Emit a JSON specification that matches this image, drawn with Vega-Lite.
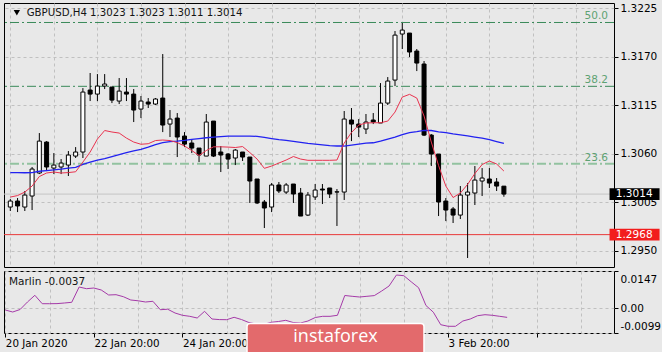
{
  "$schema": "https://vega.github.io/schema/vega-lite/v6.json",
  "background": "#e8e8e8",
  "padding": {"left": 2, "top": 2, "right": 0, "bottom": 0},
  "config": {
    "view": {"stroke": "#000000", "strokeWidth": 1, "fill": "#e8e8e8"},
    "font": "DejaVu Sans",
    "concat": {"spacing": 2},
    "axis": {"labelFont": "DejaVu Sans", "labelFontSize": 10.5, "labelColor": "#000000", "gridColor": "#c0c0c0", "gridDash": [3, 3], "gridWidth": 1, "tickColor": "#000000", "domain": false, "labelOverlap": false, "labelBound": false}
  },
  "datasets": {
    "candles": [
      {"i": 0, "open": 1.29993, "high": 1.30084, "low": 1.29948, "close": 1.30061, "ma_fast": 1.30106, "ma_slow": 1.30384, "marlin": -0.00078},
      {"i": 1, "open": 1.30061, "high": 1.30095, "low": 1.29936, "close": 1.30005, "ma_fast": 1.30123, "ma_slow": 1.30384, "marlin": -0.00157},
      {"i": 2, "open": 1.29993, "high": 1.30175, "low": 1.29948, "close": 1.30129, "ma_fast": 1.30163, "ma_slow": 1.30382, "marlin": -0.00058},
      {"i": 3, "open": 1.30118, "high": 1.30447, "low": 1.29959, "close": 1.30424, "ma_fast": 1.30231, "ma_slow": 1.30384, "marlin": 0.0024},
      {"i": 4, "open": 1.30379, "high": 1.30832, "low": 1.30367, "close": 1.30741, "ma_fast": 1.30339, "ma_slow": 1.30399, "marlin": 0.00506},
      {"i": 5, "open": 1.3073, "high": 1.30741, "low": 1.30401, "close": 1.30447, "ma_fast": 1.30379, "ma_slow": 1.30407, "marlin": 0.00172},
      {"i": 6, "open": 1.30435, "high": 1.30605, "low": 1.30367, "close": 1.30469, "ma_fast": 1.3039, "ma_slow": 1.30415, "marlin": 0.00172},
      {"i": 7, "open": 1.30447, "high": 1.30537, "low": 1.30367, "close": 1.30492, "ma_fast": 1.30379, "ma_slow": 1.30424, "marlin": 0.00176},
      {"i": 8, "open": 1.30469, "high": 1.30628, "low": 1.30345, "close": 1.30583, "ma_fast": 1.30384, "ma_slow": 1.30435, "marlin": 0.002},
      {"i": 9, "open": 1.30571, "high": 1.30673, "low": 1.30549, "close": 1.30617, "ma_fast": 1.30393, "ma_slow": 1.30444, "marlin": 0.00228},
      {"i": 10, "open": 1.30617, "high": 1.31342, "low": 1.30549, "close": 1.31297, "ma_fast": 1.30503, "ma_slow": 1.30477, "marlin": 0.00835},
      {"i": 11, "open": 1.3132, "high": 1.31513, "low": 1.31195, "close": 1.31274, "ma_fast": 1.30617, "ma_slow": 1.30503, "marlin": 0.00768},
      {"i": 12, "open": 1.31274, "high": 1.31501, "low": 1.31195, "close": 1.31365, "ma_fast": 1.30764, "ma_slow": 1.30526, "marlin": 0.00795},
      {"i": 13, "open": 1.31365, "high": 1.31501, "low": 1.31331, "close": 1.31388, "ma_fast": 1.30861, "ma_slow": 1.30543, "marlin": 0.00716},
      {"i": 14, "open": 1.31354, "high": 1.31354, "low": 1.31172, "close": 1.31206, "ma_fast": 1.30844, "ma_slow": 1.30566, "marlin": 0.00518},
      {"i": 15, "open": 1.31195, "high": 1.31456, "low": 1.31161, "close": 1.31308, "ma_fast": 1.30832, "ma_slow": 1.30588, "marlin": 0.0053},
      {"i": 16, "open": 1.31297, "high": 1.31456, "low": 1.31195, "close": 1.31274, "ma_fast": 1.30775, "ma_slow": 1.30611, "marlin": 0.0045},
      {"i": 17, "open": 1.31274, "high": 1.31331, "low": 1.30957, "close": 1.31093, "ma_fast": 1.3073, "ma_slow": 1.30631, "marlin": 0.00319},
      {"i": 18, "open": 1.31104, "high": 1.31252, "low": 1.31002, "close": 1.31195, "ma_fast": 1.30705, "ma_slow": 1.30647, "marlin": 0.00288},
      {"i": 19, "open": 1.31184, "high": 1.31229, "low": 1.31116, "close": 1.31161, "ma_fast": 1.30711, "ma_slow": 1.30673, "marlin": 0.0024},
      {"i": 20, "open": 1.31161, "high": 1.31229, "low": 1.3115, "close": 1.31218, "ma_fast": 1.30747, "ma_slow": 1.30702, "marlin": 0.00268},
      {"i": 21, "open": 1.31229, "high": 1.31728, "low": 1.30843, "close": 1.30923, "ma_fast": 1.30753, "ma_slow": 1.30724, "marlin": -0.00066},
      {"i": 22, "open": 1.30934, "high": 1.31093, "low": 1.30787, "close": 1.30991, "ma_fast": 1.30747, "ma_slow": 1.30736, "marlin": -0.00046},
      {"i": 23, "open": 1.31002, "high": 1.31059, "low": 1.3056, "close": 1.30787, "ma_fast": 1.30724, "ma_slow": 1.30741, "marlin": -0.00197},
      {"i": 24, "open": 1.30798, "high": 1.30843, "low": 1.30673, "close": 1.30707, "ma_fast": 1.30685, "ma_slow": 1.30749, "marlin": -0.00288},
      {"i": 25, "open": 1.30719, "high": 1.30764, "low": 1.30605, "close": 1.30662, "ma_fast": 1.30634, "ma_slow": 1.30761, "marlin": -0.00328},
      {"i": 26, "open": 1.30662, "high": 1.30662, "low": 1.30503, "close": 1.30583, "ma_fast": 1.30577, "ma_slow": 1.3077, "marlin": -0.00395},
      {"i": 27, "open": 1.30571, "high": 1.31048, "low": 1.30571, "close": 1.30957, "ma_fast": 1.30634, "ma_slow": 1.30779, "marlin": -0.00129},
      {"i": 28, "open": 1.30968, "high": 1.30968, "low": 1.3056, "close": 1.30571, "ma_fast": 1.30676, "ma_slow": 1.30787, "marlin": -0.00435},
      {"i": 29, "open": 1.30617, "high": 1.30685, "low": 1.3039, "close": 1.30583, "ma_fast": 1.30676, "ma_slow": 1.30792, "marlin": -0.00458},
      {"i": 30, "open": 1.30594, "high": 1.30605, "low": 1.30424, "close": 1.30537, "ma_fast": 1.30673, "ma_slow": 1.30798, "marlin": -0.00462},
      {"i": 31, "open": 1.30549, "high": 1.30651, "low": 1.30469, "close": 1.30639, "ma_fast": 1.30668, "ma_slow": 1.30798, "marlin": -0.00367},
      {"i": 32, "open": 1.30617, "high": 1.30617, "low": 1.30515, "close": 1.3056, "ma_fast": 1.30679, "ma_slow": 1.30798, "marlin": -0.00455},
      {"i": 33, "open": 1.3056, "high": 1.3056, "low": 1.30039, "close": 1.30288, "ma_fast": 1.30611, "ma_slow": 1.30798, "marlin": -0.00574},
      {"i": 34, "open": 1.30311, "high": 1.30311, "low": 1.30027, "close": 1.30039, "ma_fast": 1.30537, "ma_slow": 1.30795, "marlin": -0.00633},
      {"i": 35, "open": 1.3005, "high": 1.30073, "low": 1.29755, "close": 1.29982, "ma_fast": 1.30432, "ma_slow": 1.30783, "marlin": -0.00653},
      {"i": 36, "open": 1.29993, "high": 1.30265, "low": 1.29936, "close": 1.30243, "ma_fast": 1.30458, "ma_slow": 1.3077, "marlin": -0.00566},
      {"i": 37, "open": 1.30243, "high": 1.30277, "low": 1.30152, "close": 1.30175, "ma_fast": 1.30492, "ma_slow": 1.30758, "marlin": -0.00534},
      {"i": 38, "open": 1.30163, "high": 1.30265, "low": 1.30141, "close": 1.30243, "ma_fast": 1.30526, "ma_slow": 1.30749, "marlin": -0.00486},
      {"i": 39, "open": 1.30254, "high": 1.30254, "low": 1.30039, "close": 1.30141, "ma_fast": 1.30566, "ma_slow": 1.30738, "marlin": -0.00574},
      {"i": 40, "open": 1.30152, "high": 1.30209, "low": 1.29891, "close": 1.29891, "ma_fast": 1.30537, "ma_slow": 1.30727, "marlin": -0.00593},
      {"i": 41, "open": 1.29902, "high": 1.30163, "low": 1.29891, "close": 1.30129, "ma_fast": 1.30523, "ma_slow": 1.30715, "marlin": -0.00514},
      {"i": 42, "open": 1.30107, "high": 1.30254, "low": 1.30073, "close": 1.30186, "ma_fast": 1.30523, "ma_slow": 1.30707, "marlin": -0.00375},
      {"i": 43, "open": 1.30197, "high": 1.30254, "low": 1.30027, "close": 1.30186, "ma_fast": 1.30523, "ma_slow": 1.30698, "marlin": -0.00328},
      {"i": 44, "open": 1.30209, "high": 1.30209, "low": 1.30095, "close": 1.30141, "ma_fast": 1.30523, "ma_slow": 1.3069, "marlin": -0.00328},
      {"i": 45, "open": 1.30163, "high": 1.30197, "low": 1.29778, "close": 1.30166, "ma_fast": 1.30526, "ma_slow": 1.30685, "marlin": -0.00288},
      {"i": 46, "open": 1.30163, "high": 1.31082, "low": 1.30073, "close": 1.30991, "ma_fast": 1.30719, "ma_slow": 1.30685, "marlin": 0.00498},
      {"i": 47, "open": 1.3098, "high": 1.31116, "low": 1.30741, "close": 1.30934, "ma_fast": 1.30838, "ma_slow": 1.30696, "marlin": 0.00466},
      {"i": 48, "open": 1.30934, "high": 1.30991, "low": 1.30787, "close": 1.309, "ma_fast": 1.30923, "ma_slow": 1.30707, "marlin": 0.00438},
      {"i": 49, "open": 1.30878, "high": 1.31048, "low": 1.30821, "close": 1.30957, "ma_fast": 1.30946, "ma_slow": 1.30719, "marlin": 0.00466},
      {"i": 50, "open": 1.3098, "high": 1.31059, "low": 1.30934, "close": 1.30957, "ma_fast": 1.30949, "ma_slow": 1.30722, "marlin": 0.00494},
      {"i": 51, "open": 1.30946, "high": 1.31399, "low": 1.30946, "close": 1.31172, "ma_fast": 1.30949, "ma_slow": 1.30741, "marlin": 0.00676},
      {"i": 52, "open": 1.31172, "high": 1.31467, "low": 1.3115, "close": 1.31422, "ma_fast": 1.30968, "ma_slow": 1.30764, "marlin": 0.00875},
      {"i": 53, "open": 1.31433, "high": 1.31989, "low": 1.31365, "close": 1.31943, "ma_fast": 1.3107, "ma_slow": 1.30787, "marlin": 0.01311},
      {"i": 54, "open": 1.31955, "high": 1.3208, "low": 1.31785, "close": 1.32, "ma_fast": 1.3124, "ma_slow": 1.30815, "marlin": 0.01284},
      {"i": 55, "open": 1.31966, "high": 1.31966, "low": 1.31694, "close": 1.31751, "ma_fast": 1.31271, "ma_slow": 1.30838, "marlin": 0.01041},
      {"i": 56, "open": 1.31762, "high": 1.31785, "low": 1.31535, "close": 1.31626, "ma_fast": 1.31229, "ma_slow": 1.30849, "marlin": 0.00807},
      {"i": 57, "open": 1.31615, "high": 1.31649, "low": 1.30798, "close": 1.30809, "ma_fast": 1.31025, "ma_slow": 1.30863, "marlin": 0.00101},
      {"i": 58, "open": 1.30809, "high": 1.30821, "low": 1.30458, "close": 1.30594, "ma_fast": 1.3073, "ma_slow": 1.30861, "marlin": -0.00165},
      {"i": 59, "open": 1.30594, "high": 1.30594, "low": 1.29891, "close": 1.3005, "ma_fast": 1.30464, "ma_slow": 1.30846, "marlin": -0.00661},
      {"i": 60, "open": 1.30061, "high": 1.30095, "low": 1.29834, "close": 1.29959, "ma_fast": 1.30231, "ma_slow": 1.30836, "marlin": -0.00724},
      {"i": 61, "open": 1.29971, "high": 1.29993, "low": 1.29812, "close": 1.29902, "ma_fast": 1.30101, "ma_slow": 1.30823, "marlin": -0.00724},
      {"i": 62, "open": 1.29902, "high": 1.30231, "low": 1.29857, "close": 1.30129, "ma_fast": 1.30152, "ma_slow": 1.30812, "marlin": -0.00514},
      {"i": 63, "open": 1.30129, "high": 1.30265, "low": 1.29415, "close": 1.30163, "ma_fast": 1.3025, "ma_slow": 1.308, "marlin": -0.00435},
      {"i": 64, "open": 1.30152, "high": 1.30458, "low": 1.30016, "close": 1.30299, "ma_fast": 1.30373, "ma_slow": 1.30787, "marlin": -0.00304},
      {"i": 65, "open": 1.30288, "high": 1.30435, "low": 1.30118, "close": 1.30322, "ma_fast": 1.30475, "ma_slow": 1.30775, "marlin": -0.00264},
      {"i": 66, "open": 1.30311, "high": 1.30435, "low": 1.30209, "close": 1.30265, "ma_fast": 1.30515, "ma_slow": 1.30758, "marlin": -0.00288},
      {"i": 67, "open": 1.30277, "high": 1.30322, "low": 1.30175, "close": 1.30231, "ma_fast": 1.30481, "ma_slow": 1.30736, "marlin": -0.00328},
      {"i": 68, "open": 1.3023, "high": 1.3023, "low": 1.3011, "close": 1.3014, "ma_fast": 1.30401, "ma_slow": 1.30715, "marlin": -0.0037}
    ],
    "fib": [
      {"level": 1.32086, "label": "50.0"},
      {"level": 1.31362, "label": "38.2"},
      {"level": 1.30484, "label": "23.6"}
    ],
    "levels": [
      {"price": 1.3014, "label": "1.3014"},
      {"price": 1.2968, "label": "1.2968"}
    ],
    "captions": [
      {"panel": "main", "label": "GBPUSD,H4 1.3023 1.3023 1.3011 1.3014"},
      {"panel": "sub", "label": "Marlin -0.0037"},
      {"panel": "mark", "label": "instaforex"}
    ]
  },
  "vconcat": [
    {
      "width": 610,
      "height": 264,
      "layer": [
        {
          "data": {"name": "fib"},
          "mark": {"type": "rule", "strokeDash": [9, 3, 2, 3]},
          "encoding": {
            "y": {"field": "level", "type": "quantitative", "scale": {"domain": [1.29313, 1.32307], "nice": false, "zero": false},
                  "axis": {"orient": "right", "values": [1.295, 1.3005, 1.306, 1.3115, 1.317, 1.3225], "tickCount": 12, "format": ".4f", "grid": true, "tickSize": 4, "labelPadding": 2, "title": null}},
            "color": {"condition": {"test": "datum.label == '23.6'", "value": "#92c2a0"}, "value": "#3a8a5a"},
            "strokeWidth": {"condition": {"test": "datum.label == '23.6'", "value": 2}, "value": 1}
          }
        },
        {
          "data": {"name": "fib"},
          "mark": {"type": "text", "align": "right", "baseline": "bottom", "dy": -1, "fontSize": 10.5, "color": "#5ea273"},
          "encoding": {
            "x": {"datum": 82.34, "type": "quantitative"},
            "y": {"field": "level", "type": "quantitative"},
            "text": {"field": "label"}
          }
        },
        {
          "data": {"name": "levels"},
          "mark": {"type": "rule", "strokeWidth": 1},
          "encoding": {
            "y": {"field": "price", "type": "quantitative"},
            "color": {"condition": {"test": "datum.label == '1.2968'", "value": "#e83a3a"}, "value": "#c4c4c4"}
          }
        },
        {
          "data": {"name": "candles"},
          "mark": {"type": "rule", "color": "#000000", "strokeWidth": 1, "clip": true},
          "encoding": {
            "x": {"field": "i", "type": "quantitative", "scale": {"domain": [-0.18, 82.48], "nice": false, "zero": false},
                  "axis": {"orient": "bottom", "values": [0, 6, 12, 18, 24, 30, 36, 42, 48, 54, 60, 66, 72, 78], "tickCount": 30, "grid": true, "labels": false, "ticks": false, "title": null}},
            "y": {"field": "low", "type": "quantitative"},
            "y2": {"field": "high"}
          }
        },
        {
          "data": {"name": "candles"},
          "mark": {"type": "bar", "size": 4, "stroke": "#000000", "strokeWidth": 1, "clip": true},
          "encoding": {
            "x": {"field": "i", "type": "quantitative"},
            "y": {"field": "open", "type": "quantitative"},
            "y2": {"field": "close"},
            "fill": {"condition": {"test": "datum.close >= datum.open", "value": "#ffffff"}, "value": "#000000"}
          }
        },
        {
          "data": {"name": "candles"},
          "mark": {"type": "line", "color": "#2222f0", "strokeWidth": 1.3, "clip": true},
          "encoding": {
            "x": {"field": "i", "type": "quantitative"},
            "y": {"field": "ma_slow", "type": "quantitative"}
          }
        },
        {
          "data": {"name": "candles"},
          "mark": {"type": "line", "color": "#e8334f", "strokeWidth": 1, "clip": true},
          "encoding": {
            "x": {"field": "i", "type": "quantitative"},
            "y": {"field": "ma_fast", "type": "quantitative"}
          }
        },
        {
          "data": {"name": "captions"},
          "transform": [{"filter": "datum.panel == 'main'"}],
          "mark": {"type": "point", "shape": "triangle-down", "filled": true, "size": 40, "color": "#000000", "opacity": 1},
          "encoding": {
            "x": {"datum": 0.9, "type": "quantitative"},
            "y": {"datum": 1.32197, "type": "quantitative"}
          }
        },
        {
          "data": {"name": "captions"},
          "transform": [{"filter": "datum.panel == 'main'"}],
          "mark": {"type": "text", "align": "left", "baseline": "middle", "fontSize": 10.2, "color": "#151515"},
          "encoding": {
            "x": {"datum": 2.26, "type": "quantitative"},
            "y": {"datum": 1.32194, "type": "quantitative"},
            "text": {"field": "label"}
          }
        },
        {
          "data": {"name": "levels"},
          "mark": {"type": "point", "shape": "M-1,-0.232L1,-0.232L1,0.232L-1,0.232Z", "filled": true, "size": 2500, "opacity": 1, "strokeWidth": 0, "clip": false},
          "encoding": {
            "x": {"datum": 86.0, "type": "quantitative"},
            "y": {"field": "price", "type": "quantitative"},
            "color": {"condition": {"test": "datum.label == '1.2968'", "value": "#f21d1d"}, "value": "#000000"}
          }
        },
        {
          "data": {"name": "levels"},
          "mark": {"type": "text", "align": "left", "baseline": "middle", "fontSize": 10.5, "color": "#ffffff", "clip": false},
          "encoding": {
            "x": {"datum": 83.42, "type": "quantitative"},
            "y": {"field": "price", "type": "quantitative"},
            "text": {"field": "label"}
          }
        }
      ]
    },
    {
      "width": 610,
      "height": 62,
      "layer": [
        {
          "data": {"name": "candles"},
          "mark": {"type": "line", "color": "#a53aa8", "strokeWidth": 1, "clip": true},
          "encoding": {
            "x": {"field": "i", "type": "quantitative", "scale": {"domain": [-0.18, 82.48], "nice": false, "zero": false},
                  "axis": {"orient": "bottom", "values": [0, 6, 12, 18, 24, 30, 36, 42, 48, 54, 60, 66, 72, 78], "tickCount": 30, "grid": true, "tickSize": 4, "labelPadding": 1, "labelAlign": "left", "labelFontSize": 10.3, "title": null,
                           "tickOpacity": {"condition": {"test": "datum.value % 12 == 0", "value": 1}, "value": 0},
                           "labelExpr": "datum.value == 0 ? '20 Jan 2020' : datum.value == 12 ? '22 Jan 20:00' : datum.value == 24 ? '24 Jan 20:00' : datum.value == 60 ? '3 Feb 20:00' : ''"}},
            "y": {"field": "marlin", "type": "quantitative", "scale": {"domain": [-0.0099, 0.0147], "nice": false, "zero": false},
                  "axis": {"orient": "right", "values": [-0.0099, 0, 0.0147], "tickCount": 10, "grid": true, "tickSize": 4, "labelPadding": 2, "title": null,
                           "labelOffset": {"condition": [{"test": "datum.value > 0.01", "value": 8}, {"test": "datum.value < -0.005", "value": -7}], "value": 0.001},
                           "labelExpr": "datum.value > 0.01 ? '0.0147' : datum.value < -0.005 ? '-0.0099' : '0.00'"}}
          }
        },
        {
          "data": {"name": "captions"},
          "transform": [{"filter": "datum.panel == 'sub'"}],
          "mark": {"type": "text", "align": "left", "baseline": "middle", "fontSize": 10.5, "color": "#151515"},
          "encoding": {
            "x": {"datum": 0.5, "type": "quantitative"},
            "y": {"datum": 0.01053, "type": "quantitative"},
            "text": {"field": "label"}
          }
        },
        {
          "data": {"name": "captions"},
          "transform": [{"filter": "datum.panel == 'mark'"}],
          "mark": {"type": "rect", "cornerRadius": 3, "fill": "#e36a6c", "stroke": "#ffffff", "strokeWidth": 1.5, "clip": false},
          "encoding": {
            "x": {"datum": 32.75, "type": "quantitative"},
            "x2": {"datum": 56.73},
            "y": {"datum": -0.00613, "type": "quantitative"},
            "y2": {"datum": -0.02022}
          }
        },
        {
          "data": {"name": "captions"},
          "transform": [{"filter": "datum.panel == 'mark'"}],
          "mark": {"type": "text", "align": "center", "baseline": "middle", "font": "Open Sans", "fontSize": 18, "color": "#ffffff", "clip": false},
          "encoding": {
            "x": {"datum": 44.74, "type": "quantitative"},
            "y": {"datum": -0.01149, "type": "quantitative"},
            "text": {"field": "label"}
          }
        }
      ]
    }
  ]
}
